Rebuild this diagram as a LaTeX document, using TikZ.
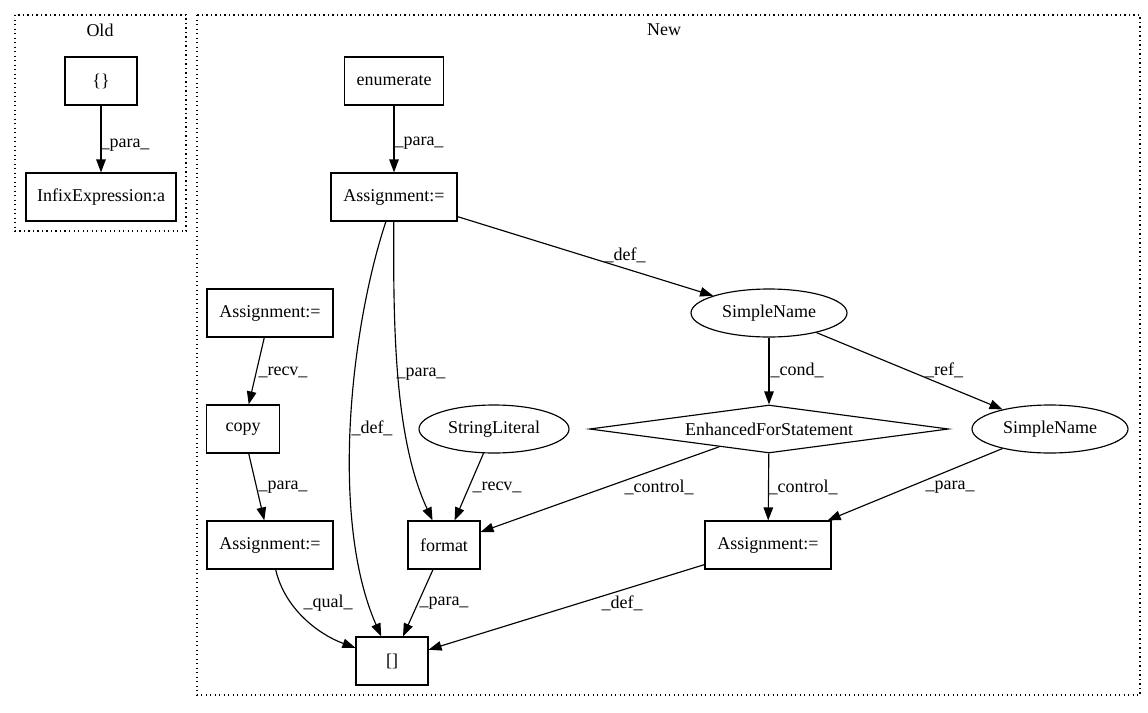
\documentclass[tikz,border=0pt]{standalone}
\usepackage{fontspec}
\setmainfont{Liberation Serif}
\usetikzlibrary{shapes.geometric,arrows.meta}
\begin{document}
\begin{tikzpicture}[x=1pt,y=-1pt,
  every node/.style={font=\fontsize{18}{21}\selectfont, text=black},
  box/.style={draw, line width=1.15pt, rectangle, inner sep=0pt, minimum height=48pt},
  ell/.style={draw, line width=1.15pt, ellipse, inner sep=0pt, minimum height=48pt},
  dia/.style={draw, line width=1.15pt, diamond, aspect=7.5, inner sep=0pt, minimum width=359pt, minimum height=48pt},
  edge/.style={draw, line width=1.15pt, -{Triangle[length=13pt,width=9.5pt]}},
  lbl/.style={inner sep=0pt},
  cluster/.style={draw, line width=1.3pt, dash pattern=on 1.3pt off 3.2pt}
]
\useasboundingbox (0,0) rectangle (1148,712);
% clusters
\draw[cluster] (15,15) rectangle (186,231);
\node[lbl] (oldlbl) at (100,30) {Old};
\draw[cluster] (197,15) rectangle (1140,695);
\node[lbl] (newlbl) at (664,30) {New};
% Old nodes
\node[box, minimum width=72pt] (ob) at (101,81) {\{\}};
\node[box, minimum width=150pt] (oi) at (101,197) {InfixExpression:a};
% New nodes
\node[box, minimum width=99pt] (en) at (394,81) {enumerate};
\node[box, minimum width=126pt] (at) at (394,197) {Assignment:=};
\node[box, minimum width=126pt] (al) at (270,313) {Assignment:=};
\node[box, minimum width=73pt] (cp) at (243,429) {copy};
\node[box, minimum width=126pt] (al2) at (270,545) {Assignment:=};
\node[ell, minimum width=150pt] (sl) at (494,429) {StringLiteral};
\node[box, minimum width=72pt] (fm) at (444,545) {format};
\node[box, minimum width=72pt] (br) at (392,661) {[]};
\node[ell, minimum width=156pt] (sn1) at (769,313) {SimpleName};
\node[dia] (enh) at (769,429) {EnhancedForStatement};
\node[ell, minimum width=156pt] (sn2) at (1050,429) {SimpleName};
\node[box, minimum width=126pt] (ar) at (768,545) {Assignment:=};
% edges
\path[edge] (ob) -- (oi) node[lbl, at={(125,145)}] {\_para\_};
\path[edge] (en) -- (at) node[lbl, at={(419,143)}] {\_para\_};
\path[edge] (at) -- (sn1) node[lbl, at={(625,255)}] {\_def\_};
\path[edge] (at) .. controls (350,330) and (330,520) .. (br) node[lbl, at={(372,428)}] {\_def\_};
\path[edge] (at) .. controls (393,330) and (395,440) .. (fm) node[lbl, at={(421,374)}] {\_para\_};
\path[edge] (al) -- (cp) node[lbl, at={(283,372)}] {\_recv\_};
\path[edge] (cp) -- (al2) node[lbl, at={(283,487)}] {\_para\_};
\path[edge] (al2) .. controls (285,610) and (320,635) .. (br) node[lbl, at={(328,603)}] {\_qual\_};
\path[edge] (sl) -- (fm) node[lbl, at={(497,487)}] {\_recv\_};
\path[edge] (fm) -- (br) node[lbl, at={(444,603)}] {\_para\_};
\path[edge] (sn1) -- (enh) node[lbl, at={(797,370)}] {\_cond\_};
\path[edge] (sn1) -- (sn2) node[lbl, at={(944,370)}] {\_ref\_};
\path[edge] (enh) -- (fm) node[lbl, at={(659,487)}] {\_control\_};
\path[edge] (enh) -- (ar) node[lbl, at={(803,487)}] {\_control\_};
\path[edge] (sn2) -- (ar) node[lbl, at={(950,487)}] {\_para\_};
\path[edge] (ar) -- (br) node[lbl, at={(622,603)}] {\_def\_};
\end{tikzpicture}
\end{document}
